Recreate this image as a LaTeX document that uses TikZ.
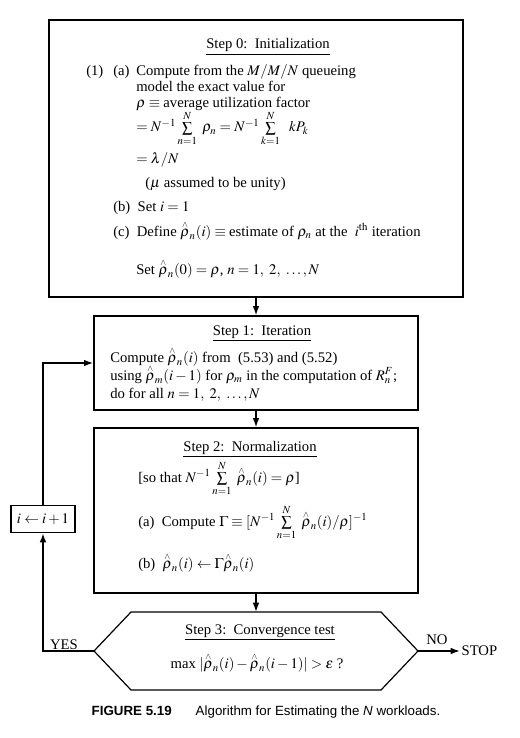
\documentclass[tikz,border=0pt]{standalone}
\usepackage{mathptmx}
\usepackage{amsmath}
\usepackage[no-math]{fontspec}
\setmainfont{Liberation Serif}
\newfontfamily\capfont{Liberation Sans}
\usetikzlibrary{arrows.meta,fit}
\newcommand{\rh}{\overset{\raisebox{-1.8pt}{$\scriptscriptstyle\wedge$}}{\rho}}

\tikzset{
  stepbox/.style={draw, line width=0.9pt, inner sep=0pt},
  flow/.style={-{Latex[length=7pt,width=5pt]}, line width=1.2pt},
  loopline/.style={line width=1.8pt},
  txt/.style={anchor=base west, inner sep=0pt},
  ttl/.style={anchor=base, inner sep=0pt},
}

\begin{document}
\begin{tikzpicture}[x=0.75pt, y=-0.75pt, font=\fontsize{11}{13}\selectfont]
  \useasboundingbox (0,0) rectangle (520,738);

  % 1. Kaesten der Schritte
  \node[stepbox, fit={(49,20) (463,297)}] (step0) {};
  \node[stepbox, fit={(94,316) (418,410)}] (step1) {};
  \node[stepbox, fit={(94,428) (418,593)}] (step2) {};
  \draw[line width=0.9pt] (94,651) -- (131,612) -- (381,612) -- (418,651) -- (381,690) -- (131,690) -- cycle;
  \coordinate (testW) at (94,651);
  \coordinate (testE) at (418,651);
  \coordinate (testN) at (256,612);
  \node[stepbox, minimum width=48pt, minimum height=20pt] (inc) at (43,519) {$i \leftarrow i + 1$};

  % 2. Step 0
  \node[ttl] (t0) at (268,49) {\underline{Step 0:\ \ Initialization}};
  \node[txt] (t0n) at (86,76) {(1)};
  \node[txt] (t0a) at (113,76) {(a)};
  \node[txt] (t0a1) at (136,76) {Compute from the $M/M/N$ queueing};
  \node[txt] (t0a2) at (136,92) {model the exact value for};
  \node[txt] (t0a3) at (136,108) {$\rho \equiv{}$average utilization factor};
  \node[txt] (t0a4) at (136,132) {$= N^{-1}\sum\limits_{n=1}^{N}\ \rho_n = N^{-1}\sum\limits_{k=1}^{N}\ \ kP_k$};
  \node[txt] (t0a5) at (136,164) {$= \lambda/N$};
  \node[txt] (t0a6) at (145,187) {($\mu$ assumed to be unity)};
  \node[txt] (t0b) at (113,211) {(b)\ \ Set $i = 1$};
  \node[txt] (t0c) at (113,236) {(c)\ \ Define $\rh_n(i) \equiv{}$estimate of $\rho_n$ at the\ \ $i^{\mathrm{th}}$ iteration};
  \node[txt] (t0d) at (136,274) {Set $\rh_n(0) = \rho$, $n = 1,\ 2,\ \ldots, N$};

  % 3. Step 1
  \node[ttl] (t1) at (262,335) {\underline{Step 1:\ \ Iteration}};
  \node[txt] (t1a) at (110,362) {Compute $\rh_n(i)$ from\ \ (5.53) and (5.52)};
  \node[txt] (t1b) at (110,380) {using $\rh_m(i-1)$ for $\rho_m$\ in the computation of $R_n^F$;};
  \node[txt] (t1c) at (110,398) {do for all $n = 1,\ 2,\ \ldots, N$};

  % 4. Step 2
  \node[ttl] (t2) at (250,451) {\underline{Step 2:\ \ Normalization}};
  \node[txt] (t2a) at (138,482) {[so that $N^{-1}\sum\limits_{n=1}^{N}\ \rh_n(i) = \rho$]};
  \node[txt] (t2b) at (138,526) {(a)\ \ Compute $\Gamma \equiv [N^{-1}\sum\limits_{n=1}^{N}\ \rh_n(i)/\rho]^{-1}$};
  \node[txt] (t2c) at (138,568) {(b)\ \ $\rh_n(i) \leftarrow \Gamma\rh_n(i)$};

  % 5. Step 3
  \node[ttl] (t3) at (260,634) {\underline{Step 3:\ \ Convergence test}};
  \node[ttl] (t3a) at (257,668) {max $|\rh_n(i) - \rh_n(i-1)| > \epsilon$ ?};

  % 6. Pfeile
  \draw[flow] (step0.south) -- (step1.north);
  \draw[flow] (step1.south) -- (step2.north);
  \draw[flow] (step2.south) -- (testN);
  \node[anchor=west, inner sep=1pt] (stop) at (460,651) {STOP};
  \draw[flow] (testE) -- (stop.west) node[pos=0.45, above=1pt] (no) {NO};
  \draw[loopline, -{Latex[length=7pt,width=5pt]}] (testW) -| (inc.south);
  \draw[loopline, -{Latex[length=7pt,width=5pt]}] (inc.north) |- (step1.west);
  \node[above=1pt, inner sep=0pt] (yes) at (64,651) {YES};

  % 7. Bildunterschrift
  \node (cap) at (266,712) {\capfont\fontsize{10}{12}\selectfont\textbf{FIGURE 5.19}\hspace{1.8em}Algorithm for Estimating the \textit{N} workloads.};
\end{tikzpicture}
\end{document}
